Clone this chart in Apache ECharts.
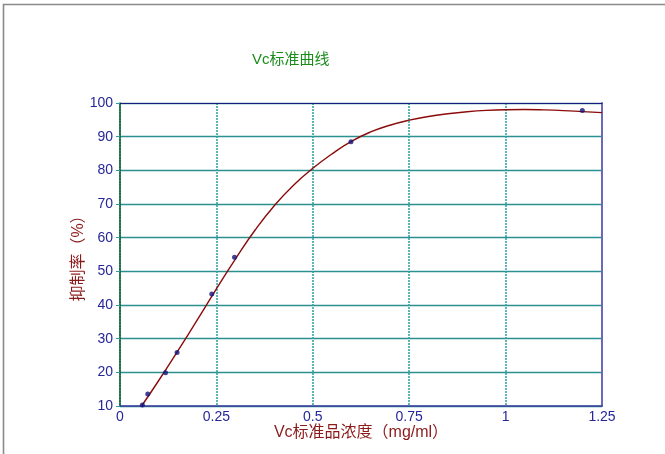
<!DOCTYPE html>
<html>
<head>
<meta charset="utf-8">
<style>html,body{margin:0;padding:0;background:#fff;}#c{width:665px;height:454px;}</style>
<script src="https://cdn.jsdelivr.net/npm/echarts@6/dist/echarts.min.js"></script>
</head>
<body>
<div id="c"></div>
<script>
var titleText = 'Vc标准曲线';
var xName = 'Vc标准品浓度（mg/ml）';
var yName = '抑制率（%）';
var pointX = [0.058, 0.072, 0.118, 0.148, 0.238, 0.297, 0.599, 1.199];
var pointY = [10.3, 13.6, 19.9, 25.9, 43.3, 54.2, 88.5, 97.8];
var curveX = [0.056, 0.1, 0.15, 0.2, 0.25, 0.3, 0.35, 0.4, 0.45, 0.5, 0.55, 0.6, 0.65, 0.7, 0.75, 0.8, 0.85, 0.9, 0.95, 1.0, 1.05, 1.1, 1.15, 1.2, 1.25];
var curveY = [10, 17.5, 26.4, 35.5, 44.8, 53.8, 62.2, 69.5, 75.6, 80.6, 84.9, 88.6, 91.4, 93.4, 94.9, 96.0, 96.8, 97.4, 97.8, 98.0, 98.05, 97.95, 97.75, 97.45, 97.15];

var FONT = '"Liberation Sans", Arial, "Noto Sans CJK SC", sans-serif';
var chart = echarts.init(document.getElementById('c'), null, {renderer: 'canvas'});
function pairs(xs, ys) { return xs.map(function (x, i) { return [x, ys[i]]; }); }

chart.setOption({
  animation: false,
  backgroundColor: '#fff',
  title: {
    text: titleText, left: 247, top: 47,
    textStyle: {color: '#1a8c1a', fontSize: 15, fontWeight: 'normal', fontFamily: FONT}
  },
  grid: {left: 120, right: 63, top: 103, bottom: 48},
  graphic: [{
    type: 'polyline', silent: true,
    shape: {points: [[3.5, 454], [3.5, 4.5], [665, 4.5]]},
    style: {stroke: '#8a8a8a', lineWidth: 1.6, fill: null}
  }],
  xAxis: [{
    type: 'value', min: 0, max: 1.25, interval: 0.25,
    name: xName, nameLocation: 'middle', nameGap: 19, nameMoveOverlap: false,
    nameTextStyle: {color: '#8b1a1a', fontSize: 16, fontFamily: FONT},
    axisLine: {show: true, onZero: false, lineStyle: {color: '#3a3aa0', width: 1.5}},
    axisTick: {show: false},
    axisLabel: {color: '#26269a', fontSize: 14, margin: 4, fontFamily: FONT},
    splitLine: {show: true, lineStyle: {color: '#2a9e9e', width: 1.5, type: [2, 1]}}
  }, {
    type: 'value', position: 'top', min: 0, max: 1.25, interval: 0.25,
    axisLine: {show: true, onZero: false, lineStyle: {color: '#1a1a80', width: 1.2}},
    axisTick: {show: false}, axisLabel: {show: false}, splitLine: {show: false}
  }],
  yAxis: [{
    type: 'value', min: 10, max: 100, interval: 10,
    name: yName, nameLocation: 'middle', nameGap: 33, nameRotate: 90, nameMoveOverlap: false,
    nameTextStyle: {color: '#8b1a1a', fontSize: 16, fontFamily: FONT},
    axisLine: {show: true, onZero: false, lineStyle: {color: '#0a5a2a', width: 1.5}},
    axisTick: {show: true, length: 4, lineStyle: {color: '#2a9e9e'}},
    axisLabel: {color: '#26269a', fontSize: 14, margin: 7, fontFamily: FONT},
    splitLine: {show: true, lineStyle: {color: '#2a9090', width: 1.3}}
  }, {
    type: 'value', position: 'right', min: 10, max: 100, interval: 10,
    axisLine: {show: true, onZero: false, lineStyle: {color: '#6a6ab8', width: 2}},
    axisTick: {show: false}, axisLabel: {show: false}, splitLine: {show: false}
  }],
  series: [{
    type: 'line', data: pairs(curveX, curveY), smooth: true, showSymbol: false,
    lineStyle: {color: '#8b0a0a', width: 1.4}, z: 3
  }, {
    type: 'scatter', data: pairs(pointX, pointY), symbol: 'circle', symbolSize: 5,
    itemStyle: {color: '#14147a'}, z: 4
  }]
});
</script>
</body>
</html>
